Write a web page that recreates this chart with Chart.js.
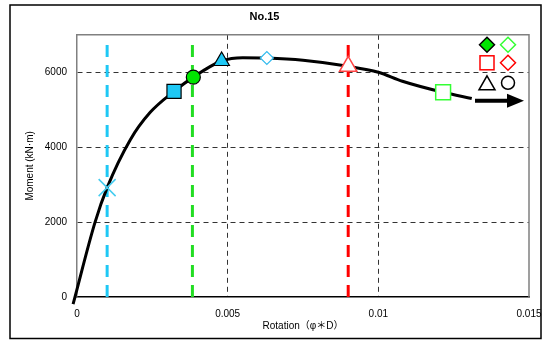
<!DOCTYPE html>
<html>
<head>
<meta charset="utf-8">
<script src="https://cdn.jsdelivr.net/npm/chart.js@4.4.0/dist/chart.umd.min.js"></script>
<style>
  html, body { margin: 0; padding: 0; background: #fff; }
  #wrap { width: 545px; height: 340px; position: relative; }
</style>
</head>
<body>
<div id="wrap"><canvas id="chart" width="545" height="340"></canvas></div>
<script>
// moment-rotation curve
const rotation = [-0.00013, 0.0006, 0.001, 0.00177, 0.00243, 0.00322, 0.00386, 0.0048, 0.0055, 0.0063, 0.0075, 0.009, 0.01, 0.0108, 0.01215, 0.0131];
const moment   = [-190, 2000, 2920, 4200, 4930, 5490, 5870, 6300, 6390, 6380, 6320, 6160, 6000, 5760, 5465, 5300];

// markers on the curve
const markerX = [0.001, 0.00322, 0.00386, 0.0048, 0.0063, 0.009, 0.01215];
const markerY = [2920, 5490, 5870, 6300, 6380, 6160, 5465];

// vertical limit lines
const limitX = [0.001, 0.00383, 0.009];
const limitTop = 6850;
const limitColors = ['#1ec8f5', '#22dd22', '#ff0000'];

const xTicks = [0, 0.005, 0.01, 0.015];
const yTicks = [0, 2000, 4000, 6000];

const markerStyles = [
  { pointStyle: 'crossRot', radius: 12, fill: '#44ccf0', stroke: '#44ccf0', width: 1.5 },
  { pointStyle: 'rect', radius: 10, fill: '#1ec8f5', stroke: '#000', width: 1.2 },
  { pointStyle: 'circle', radius: 7, fill: '#00e600', stroke: '#000', width: 1.2 },
  { pointStyle: 'triangle', radius: 9, fill: '#1ec8f5', stroke: '#000', width: 1.2 },
  { pointStyle: 'rectRot', radius: 6.5, fill: '#fff', stroke: '#33bbee', width: 1.2 },
  { pointStyle: 'triangle', radius: 10, fill: '#fff', stroke: '#ff4444', width: 1.5 },
  { pointStyle: 'rect', radius: 10.5, fill: '#fff', stroke: '#33ff33', width: 1.5 }
];

const datasets = [];

markerX.forEach((x, i) => {
  const s = markerStyles[i];
  datasets.push({
    data: [{ x: x, y: markerY[i] }],
    pointStyle: s.pointStyle,
    pointRadius: s.radius,
    pointBackgroundColor: s.fill,
    pointBorderColor: s.stroke,
    pointBorderWidth: s.width,
    showLine: false,
    order: 0
  });
});

datasets.push({
  data: rotation.map((x, i) => ({ x: x, y: moment[i] })),
  showLine: true,
  borderColor: '#000',
  borderWidth: 3,
  pointRadius: 0,
  cubicInterpolationMode: 'monotone',
  clip: { left: 10, bottom: 10, top: 0, right: 0 },
  order: 1
});

limitX.forEach((x, i) => {
  datasets.push({
    data: [{ x: x, y: 0 }, { x: x, y: limitTop }],
    showLine: true,
    borderColor: limitColors[i],
    borderWidth: 3,
    borderDash: [12, 8],
    pointRadius: 0,
    order: 2
  });
});

// gray frame, outer border and the symbol key in the corner
const framePlugin = {
  id: 'frame',
  afterDraw(chart) {
    const { ctx, chartArea: a } = chart;
    ctx.save();
    ctx.strokeStyle = '#808080';
    ctx.lineWidth = 1.5;
    ctx.beginPath();
    ctx.moveTo(a.left, a.top);
    ctx.lineTo(a.right, a.top);
    ctx.lineTo(a.right, a.bottom);
    ctx.stroke();

    ctx.strokeStyle = '#000';
    ctx.lineWidth = 1.5;
    ctx.strokeRect(10, 5, 531, 333.5);

    const diamond = (cx, cy, r, fill, stroke) => {
      ctx.beginPath();
      ctx.moveTo(cx, cy - r); ctx.lineTo(cx + r, cy); ctx.lineTo(cx, cy + r); ctx.lineTo(cx - r, cy);
      ctx.closePath();
      if (fill) { ctx.fillStyle = fill; ctx.fill(); }
      ctx.strokeStyle = stroke; ctx.lineWidth = 1.5; ctx.stroke();
    };
    const r = a.right, t = a.top;
    diamond(r - 42, t + 10, 7.5, '#00e600', '#000');
    diamond(r - 21, t + 10, 7.5, null, '#33ff33');
    ctx.strokeStyle = '#ff0000'; ctx.lineWidth = 1.5;
    ctx.strokeRect(r - 49, t + 21, 14, 14);
    diamond(r - 21, t + 28, 7.5, null, '#ff0000');
    ctx.strokeStyle = '#000'; ctx.lineWidth = 1.5;
    ctx.beginPath();
    ctx.moveTo(r - 42, t + 41); ctx.lineTo(r - 34, t + 55); ctx.lineTo(r - 50, t + 55); ctx.closePath();
    ctx.stroke();
    ctx.beginPath();
    ctx.arc(r - 21, t + 48, 6.5, 0, Math.PI * 2);
    ctx.stroke();
    ctx.lineWidth = 4;
    ctx.beginPath();
    ctx.moveTo(r - 54, t + 66); ctx.lineTo(r - 18, t + 66);
    ctx.stroke();
    ctx.fillStyle = '#000';
    ctx.beginPath();
    ctx.moveTo(r - 5, t + 66); ctx.lineTo(r - 22, t + 59); ctx.lineTo(r - 22, t + 73); ctx.closePath();
    ctx.fill();
    ctx.restore();
  }
};

new Chart(document.getElementById('chart'), {
  type: 'scatter',
  data: { datasets: datasets },
  options: {
    responsive: false,
    animation: false,
    layout: { padding: { left: 0, right: 16, top: 0, bottom: 0 } },
    plugins: {
      legend: { display: false },
      tooltip: { enabled: false },
      title: {
        display: true,
        text: 'No.15',
        color: '#000',
        font: { family: 'Liberation Sans', size: 11, weight: 'bold' },
        padding: { top: 10, bottom: 11.6 }
      }
    },
    scales: {
      x: {
        type: 'linear',
        min: 0,
        max: 0.015,
        afterBuildTicks: (s) => { s.ticks = xTicks.map(v => ({ value: v })); },
        afterFit: (s) => { s.height = 43; s.paddingLeft = 0; s.paddingRight = 0; },
        grid: { drawTicks: false, color: (c) => {
          const v = c.tick ? c.tick.value : null;
          return (v === 0 || v === 0.015) ? 'rgba(0,0,0,0)' : '#333';
        }, lineWidth: 1 },
        border: { color: '#000', width: 1.5, dash: [5, 4] },
        ticks: {
          padding: 11,
          color: '#000',
          font: { family: 'Liberation Sans', size: 10 },
          callback: (v) => String(+v.toFixed(4))
        },
        title: {
          display: true,
          text: 'Rotation（φ＊D）',
          color: '#000',
          font: { family: 'Liberation Sans, Noto Sans CJK JP', size: 10 },
          padding: { top: 0, bottom: 8 }
        }
      },
      y: {
        min: 0,
        max: 7000,
        afterBuildTicks: (s) => { s.ticks = yTicks.map(v => ({ value: v })); },
        afterFit: (s) => { s.width = 77; s.paddingTop = 0; s.paddingBottom = 0; },
        grid: { drawTicks: false, color: (c) => {
          const v = c.tick ? c.tick.value : null;
          return (v === 0 || v === 7000) ? 'rgba(0,0,0,0)' : '#333';
        }, lineWidth: 1 },
        border: { color: '#808080', width: 1.5, dash: [5, 4] },
        ticks: {
          padding: 10,
          color: '#000',
          font: { family: 'Liberation Sans', size: 10 },
          callback: (v) => String(v)
        },
        title: {
          display: true,
          text: 'Moment (kN·m)',
          color: '#000',
          font: { family: 'Liberation Sans', size: 10 },
          padding: { top: 24, bottom: 0 }
        }
      }
    }
  },
  plugins: [framePlugin]
});
</script>
</body>
</html>
